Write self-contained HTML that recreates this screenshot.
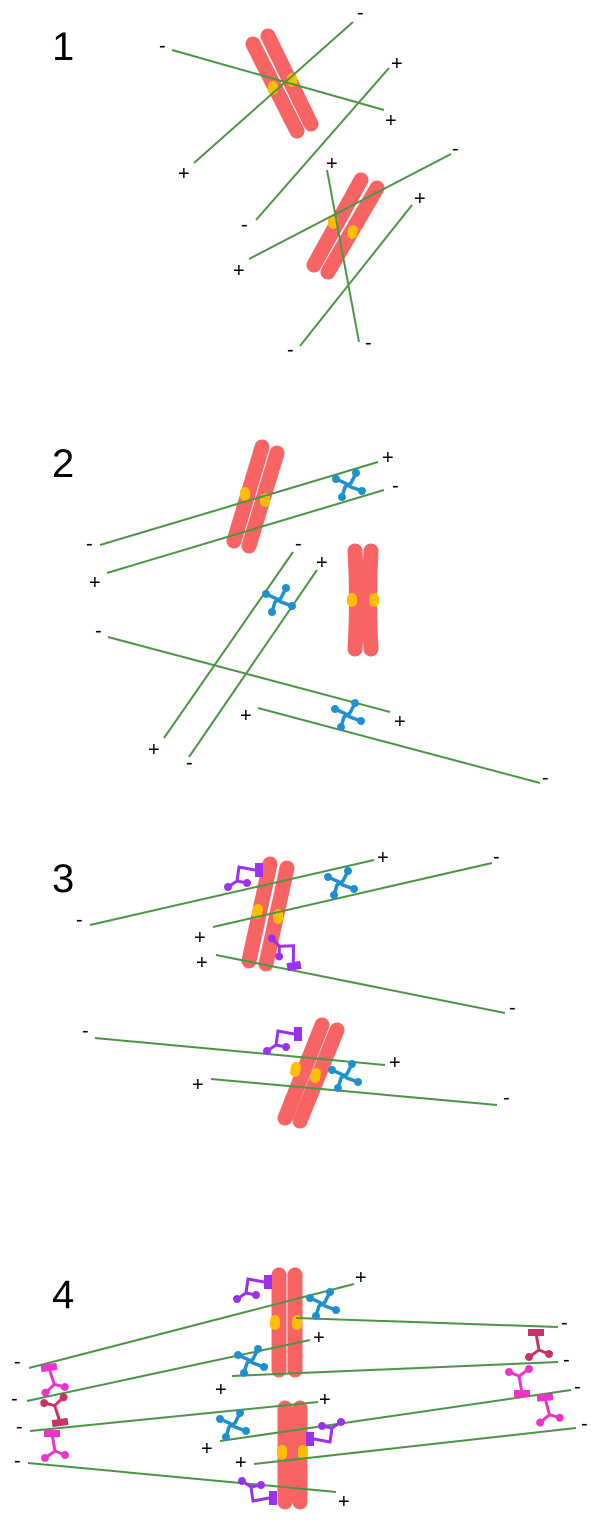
<!DOCTYPE html>
<html><head><meta charset="utf-8"><style>
html,body{margin:0;padding:0;background:#fff;}
svg{display:block;}
text{font-family:"Liberation Sans",sans-serif;fill:#000;}
.pm{font-size:20px;}
.num{font-size:40px;}
</style></head><body>
<svg width="600" height="1523" viewBox="0 0 600 1523" xmlns="http://www.w3.org/2000/svg">
<defs>
<g id="blue">
<path d="M-12,-6 L-3,-2 L3,2 L14,6 M8,-12 L3,-2 L-3,2 L-6,12 M-3,-2 L3,2" stroke="#1e90d0" stroke-width="3.5" fill="none"/>
<circle cx="-12" cy="-6" r="4" fill="#1e90d0"/><circle cx="8" cy="-12" r="4" fill="#1e90d0"/>
<circle cx="14" cy="6" r="4" fill="#1e90d0"/><circle cx="-6" cy="12" r="4" fill="#1e90d0"/>
</g>
<g id="purple">
<rect x="-4" y="-7" width="8" height="14" fill="#9b30f0"/>
<path d="M-4,0 L-20,-3 L-22,11 L-31,17 M-22,11 L-12,13" stroke="#9b30f0" stroke-width="3" fill="none"/>
<circle cx="-31" cy="17" r="4" fill="#9b30f0"/><circle cx="-12" cy="13" r="4" fill="#9b30f0"/>
</g>
<g id="mag">
<rect x="-8" y="-4" width="16" height="7" fill="#ee33cc"/>
<path d="M0,0 L3,17 L-7,24 M3,17 L13,21" stroke="#ee33cc" stroke-width="3" fill="none"/>
<circle cx="-7" cy="24" r="4" fill="#ee33cc"/><circle cx="13" cy="21" r="4" fill="#ee33cc"/>
</g>
<g id="dred">
<rect x="-8" y="-4" width="16" height="7" fill="#c8336a"/>
<path d="M0,0 L3,17 L-7,24 M3,17 L13,21" stroke="#c8336a" stroke-width="3" fill="none"/>
<circle cx="-7" cy="24" r="4" fill="#c8336a"/><circle cx="13" cy="21" r="4" fill="#c8336a"/>
</g>
</defs>

<g stroke-linecap="round">
<text x="52" y="60" class="num">1</text>
<line x1="253" y1="44" x2="297" y2="131" stroke="#f86464" stroke-width="15"/>
<line x1="268" y1="36" x2="311" y2="124" stroke="#f86464" stroke-width="15"/>
<line x1="273" y1="86" x2="273" y2="90" stroke="#ffbe00" stroke-width="10"/>
<line x1="292" y1="78" x2="292" y2="82" stroke="#ffbe00" stroke-width="10"/>
<line x1="361" y1="180" x2="314" y2="265" stroke="#f86464" stroke-width="15"/>
<line x1="377" y1="188" x2="328" y2="272" stroke="#f86464" stroke-width="15"/>
<line x1="333" y1="220" x2="333" y2="224" stroke="#ffbe00" stroke-width="10"/>
<line x1="353" y1="230" x2="352" y2="234" stroke="#ffbe00" stroke-width="10"/>
</g>
<g stroke="#4a9644" stroke-width="2">
<line x1="172" y1="50" x2="384" y2="110"/>
<line x1="194" y1="163" x2="353" y2="22"/>
<line x1="256" y1="220" x2="389" y2="68"/>
<line x1="249" y1="259" x2="451" y2="154"/>
<line x1="327" y1="170" x2="359" y2="342"/>
<line x1="300" y1="346" x2="412" y2="205"/>
</g>
<text x="159" y="52" class="pm">-</text><text x="385" y="127" class="pm">+</text>
<text x="178" y="180" class="pm">+</text><text x="357" y="19" class="pm">-</text>
<text x="241" y="231" class="pm">-</text><text x="391" y="70" class="pm">+</text>
<text x="233" y="277" class="pm">+</text><text x="452" y="155" class="pm">-</text>
<text x="326" y="170" class="pm">+</text><text x="365" y="349" class="pm">-</text>
<text x="287" y="356" class="pm">-</text><text x="414" y="205" class="pm">+</text>

<text x="52" y="477" class="num">2</text>
<g stroke-linecap="round">
<line x1="262" y1="447" x2="234" y2="541" stroke="#f86464" stroke-width="15"/>
<line x1="277" y1="453" x2="249" y2="546" stroke="#f86464" stroke-width="15"/>
<line x1="245" y1="492" x2="245" y2="496" stroke="#ffbe00" stroke-width="10"/>
<line x1="265" y1="498" x2="265" y2="502" stroke="#ffbe00" stroke-width="10"/>
<path d="M355,551 Q358,600 355,649" stroke="#f86464" stroke-width="15" fill="none"/>
<path d="M371,551 Q368,600 371,649" stroke="#f86464" stroke-width="15" fill="none"/>
<line x1="352" y1="598" x2="352" y2="602" stroke="#ffbe00" stroke-width="10"/>
<line x1="374" y1="598" x2="374" y2="602" stroke="#ffbe00" stroke-width="10"/>
</g>
<g stroke="#4a9644" stroke-width="2">
<line x1="100" y1="545" x2="378" y2="462"/>
<line x1="107" y1="573" x2="384" y2="490"/>
<line x1="164" y1="738" x2="293" y2="552"/>
<line x1="189" y1="757" x2="317" y2="570"/>
<line x1="108" y1="637" x2="390" y2="712"/>
<line x1="258" y1="708" x2="540" y2="783"/>
</g>
<use href="#blue" x="348" y="485"/>
<use href="#blue" x="278" y="600"/>
<use href="#blue" x="347" y="715"/>
<text x="86" y="550" class="pm">-</text><text x="382" y="464" class="pm">+</text>
<text x="89" y="589" class="pm">+</text><text x="392" y="492" class="pm">-</text>
<text x="148" y="756" class="pm">+</text><text x="295" y="550" class="pm">-</text>
<text x="186" y="769" class="pm">-</text><text x="316" y="569" class="pm">+</text>
<text x="95" y="637" class="pm">-</text><text x="394" y="728" class="pm">+</text>
<text x="240" y="722" class="pm">+</text><text x="542" y="784" class="pm">-</text>

<text x="52" y="892" class="num">3</text>
<g stroke-linecap="round">
<line x1="270" y1="864" x2="249" y2="961" stroke="#f86464" stroke-width="15"/>
<line x1="287" y1="868" x2="266" y2="964" stroke="#f86464" stroke-width="15"/>
<line x1="258" y1="909" x2="257" y2="914" stroke="#ffbe00" stroke-width="10"/>
<line x1="278" y1="914" x2="278" y2="919" stroke="#ffbe00" stroke-width="10"/>
<line x1="322" y1="1025" x2="285" y2="1118" stroke="#f86464" stroke-width="15"/>
<line x1="337" y1="1030" x2="300" y2="1121" stroke="#f86464" stroke-width="15"/>
<line x1="296" y1="1067" x2="295" y2="1072" stroke="#ffbe00" stroke-width="10"/>
<line x1="316" y1="1073" x2="315" y2="1078" stroke="#ffbe00" stroke-width="10"/>
</g>
<g stroke="#4a9644" stroke-width="2">
<line x1="90" y1="925" x2="374" y2="860"/>
<line x1="213" y1="927" x2="492" y2="863"/>
<line x1="216" y1="955" x2="505" y2="1013"/>
<line x1="95" y1="1038" x2="385" y2="1065"/>
<line x1="211" y1="1079" x2="497" y2="1105"/>
</g>
<use href="#purple" transform="translate(259,870)"/>
<use href="#purple" transform="translate(294,966) rotate(80)"/>
<use href="#blue" x="340" y="883"/>
<use href="#purple" transform="translate(298,1034)"/>
<use href="#blue" x="344" y="1076"/>
<text x="76" y="926" class="pm">-</text><text x="377" y="864" class="pm">+</text>
<text x="194" y="944" class="pm">+</text><text x="493" y="863" class="pm">-</text>
<text x="196" y="969" class="pm">+</text><text x="509" y="1014" class="pm">-</text>
<text x="82" y="1037" class="pm">-</text><text x="389" y="1069" class="pm">+</text>
<text x="192" y="1091" class="pm">+</text><text x="503" y="1104" class="pm">-</text>

<text x="52" y="1308" class="num">4</text>
<g stroke-linecap="round">
<line x1="279" y1="1275" x2="279" y2="1370" stroke="#f86464" stroke-width="15"/>
<line x1="295" y1="1275" x2="295" y2="1370" stroke="#f86464" stroke-width="15"/>
<line x1="275" y1="1320" x2="275" y2="1325" stroke="#ffbe00" stroke-width="10"/>
<line x1="297" y1="1320" x2="297" y2="1325" stroke="#ffbe00" stroke-width="10"/>
<line x1="285" y1="1408" x2="285" y2="1502" stroke="#f86464" stroke-width="15"/>
<line x1="300" y1="1408" x2="300" y2="1502" stroke="#f86464" stroke-width="15"/>
<line x1="282" y1="1450" x2="282" y2="1455" stroke="#ffbe00" stroke-width="10"/>
<line x1="303" y1="1450" x2="303" y2="1455" stroke="#ffbe00" stroke-width="10"/>
</g>
<g stroke="#4a9644" stroke-width="2">
<line x1="29" y1="1368" x2="354" y2="1284"/>
<line x1="296" y1="1318" x2="558" y2="1327"/>
<line x1="27" y1="1401" x2="310" y2="1340"/>
<line x1="232" y1="1376" x2="558" y2="1362"/>
<line x1="30" y1="1431" x2="318" y2="1402"/>
<line x1="220" y1="1441" x2="571" y2="1390"/>
<line x1="254" y1="1464" x2="576" y2="1428"/>
<line x1="28" y1="1463" x2="336" y2="1492"/>
</g>
<use href="#purple" transform="translate(268,1282)"/>
<use href="#purple" transform="translate(310,1439) rotate(180)"/>
<use href="#purple" transform="translate(273,1498) scale(1,-1)"/>
<use href="#blue" x="322" y="1304"/>
<use href="#blue" x="250" y="1361"/>
<use href="#blue" x="232" y="1425"/>
<use href="#mag" transform="translate(49,1368) rotate(-8)"/>
<use href="#dred" transform="translate(60,1422) rotate(172)"/>
<use href="#mag" transform="translate(52,1434)"/>
<use href="#dred" transform="translate(536,1333)"/>
<use href="#mag" transform="translate(522,1393) rotate(180)"/>
<use href="#mag" transform="translate(545,1398) rotate(-5)"/>
<text x="14" y="1368" class="pm">-</text><text x="355" y="1284" class="pm">+</text>
<text x="561" y="1329" class="pm">-</text>
<text x="11" y="1405" class="pm">-</text><text x="313" y="1344" class="pm">+</text>
<text x="215" y="1396" class="pm">+</text><text x="563" y="1366" class="pm">-</text>
<text x="16" y="1433" class="pm">-</text><text x="319" y="1406" class="pm">+</text>
<text x="201" y="1455" class="pm">+</text><text x="574" y="1393" class="pm">-</text>
<text x="235" y="1469" class="pm">+</text><text x="581" y="1430" class="pm">-</text>
<text x="14" y="1467" class="pm">-</text><text x="338" y="1508" class="pm">+</text>
</svg>
</body></html>
